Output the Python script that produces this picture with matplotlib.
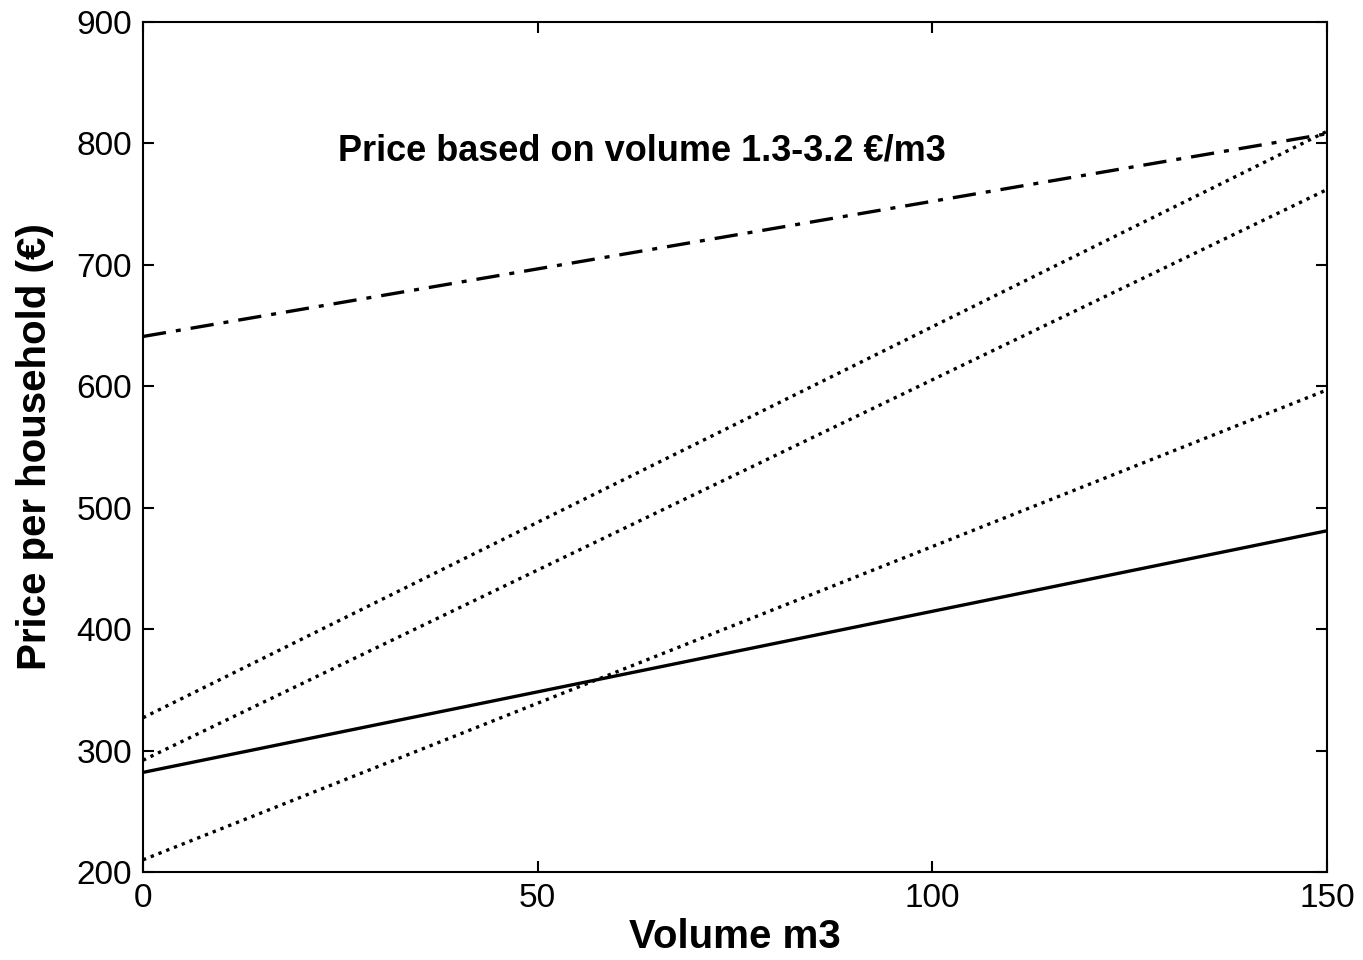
import matplotlib
matplotlib.use('Agg')
import matplotlib.pyplot as plt

# Werte
volume = [0, 150]
price_dashdot = [641, 808]
price_dotted_a = [327, 810]
price_dotted_b = [292, 762]
price_dotted_c = [210, 597]
price_solid = [282, 481]

x_ticks = [0, 50, 100, 150]
y_ticks = [200, 300, 400, 500, 600, 700, 800, 900]

plt.rcParams['font.family'] = ['Liberation Sans', 'DejaVu Sans']

fig = plt.figure(figsize=(13.63, 9.6), dpi=100)
ax = fig.add_axes([0.1049, 0.0917, 0.8687, 0.8854])

lw = 2.4
ax.plot(volume, price_dashdot, color='black', lw=lw, linestyle=(0, (7, 3, 1.5, 3)))
ax.plot(volume, price_dotted_a, color='black', lw=lw, linestyle=(0, (1, 1.5)))
ax.plot(volume, price_dotted_b, color='black', lw=lw, linestyle=(0, (1, 1.5)))
ax.plot(volume, price_dotted_c, color='black', lw=lw, linestyle=(0, (1, 1.5)))
ax.plot(volume, price_solid, color='black', lw=lw, linestyle='-')

ax.set_xlim(0, 150)
ax.set_ylim(200, 900)
ax.set_xticks(x_ticks)
ax.set_yticks(y_ticks)
ax.tick_params(direction='in', length=8, width=1.5, top=True, right=True,
               labelsize=24, pad=8)
for s in ax.spines.values():
    s.set_linewidth(1.5)

ax.text(24.7, 794, 'Price based on volume 1.3-3.2 €/m3', fontsize=26,
        fontweight='bold', va='center', ha='left')

ax.set_xlabel('Volume m3', fontsize=29, fontweight='bold', labelpad=3)
ax.set_ylabel('Price per household (€)', fontsize=29, fontweight='bold', labelpad=16)

fig.savefig('out.png', dpi=100)
